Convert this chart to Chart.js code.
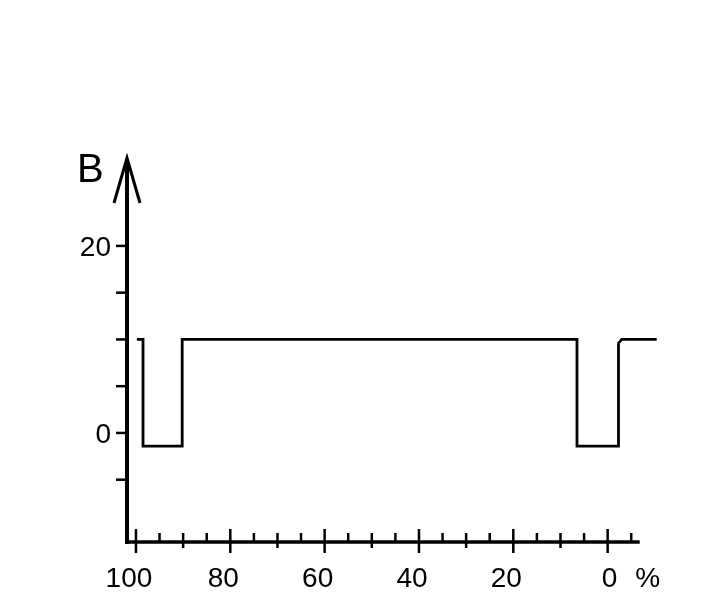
<!DOCTYPE html>
<html>
<head>
<meta charset="utf-8">
<script src="https://cdn.jsdelivr.net/npm/chart.js@4.4.1/dist/chart.umd.min.js"></script>
<style>
  html, body { margin: 0; padding: 0; background: #fff; }
  #wrap { width: 702px; height: 600px; }
</style>
</head>
<body>
<div id="wrap"><canvas id="chart" width="702" height="600"></canvas></div>
<script>
// trace corners (x in %, y in B units)
const traceX = [99.8, 98.5, 98.5, 90.2, 90.2, 6.5, 6.5, -2.2, -2.2, -2.4, -3.0, -10.4];
const traceY = [10, 10, -1.4, -1.4, 10, 10, -1.4, -1.4, 6.2, 9.6, 10, 10];

const xLabels = [100, 80, 60, 40, 20, 0];
const xTicksLong = [100, 80, 60, 40, 20, 0];
const xTicksMid = [90, 70, 50, 30, 10];
const xTicksSmall = [95, 85, 75, 65, 55, 45, 35, 25, 15, 5, -5];
const yLabels = [20, 0];
const yTicks = [20, 15, 10, 5, 0, -5];

const xUnit = '%';
const yName = 'B';

const FONT = '"Liberation Sans", Arial, Helvetica, sans-serif';

const axesPlugin = {
    id: 'axes',
    afterDraw(chart) {
        const ctx = chart.ctx;
        const xs = chart.scales.x;
        const ys = chart.scales.y;
        const ax = xs.getPixelForValue(101.9);
        const ay = ys.getPixelForValue(-11.66);
        const top = ys.getPixelForValue(29.4);
        const xEnd = xs.getPixelForValue(-6.8);

        ctx.save();
        ctx.strokeStyle = '#000';
        ctx.lineCap = 'butt';

        // y axis with arrow
        ctx.lineWidth = 4;
        ctx.beginPath();
        ctx.moveTo(ax, ay + 2);
        ctx.lineTo(ax, top + 2);
        ctx.stroke();
        ctx.lineWidth = 3;
        ctx.beginPath();
        ctx.moveTo(ax - 13, top + 45);
        ctx.lineTo(ax, top);
        ctx.lineTo(ax + 13, top + 45);
        ctx.stroke();

        // x axis
        ctx.lineWidth = 3.5;
        ctx.beginPath();
        ctx.moveTo(ax - 2, ay);
        ctx.lineTo(xEnd, ay);
        ctx.stroke();

        // x ticks
        ctx.lineWidth = 2.5;
        const tick = (v, up, down) => {
            const px = xs.getPixelForValue(v);
            ctx.beginPath();
            ctx.moveTo(px, ay - up);
            ctx.lineTo(px, ay + down);
            ctx.stroke();
        };
        xTicksLong.forEach(v => tick(v, 13, 11));
        xTicksMid.forEach(v => tick(v, 9, 6));
        xTicksSmall.forEach(v => tick(v, 9, 0));

        // y ticks
        yTicks.forEach(v => {
            const py = ys.getPixelForValue(v);
            ctx.beginPath();
            ctx.moveTo(ax - 11, py);
            ctx.lineTo(ax, py);
            ctx.stroke();
        });

        // labels
        ctx.fillStyle = '#000';
        ctx.font = '28px ' + FONT;
        ctx.textBaseline = 'middle';
        ctx.textAlign = 'center';
        xLabels.forEach(v => {
            const px = xs.getPixelForValue(v) + (v === 0 ? 2 : -7);
            ctx.fillText(String(v), px, ay + 37);
        });
        ctx.fillText(xUnit, xs.getPixelForValue(-8.5), ay + 37);

        ctx.textAlign = 'right';
        yLabels.forEach(v => {
            ctx.fillText(String(v), ax - 16, ys.getPixelForValue(v) + 2);
        });

        ctx.font = '40px ' + FONT;
        ctx.textAlign = 'left';
        ctx.textBaseline = 'alphabetic';
        ctx.fillText(yName, ax - 50, top + 24);
        ctx.restore();
    }
};

new Chart(document.getElementById('chart'), {
    type: 'line',
    data: {
        datasets: [{
            data: traceX.map((x, i) => ({ x: x, y: traceY[i] })),
            borderColor: '#000',
            borderWidth: 2.8,
            pointRadius: 0,
            tension: 0,
            fill: false
        }]
    },
    options: {
        responsive: false,
        animation: false,
        layout: { padding: { left: 127, right: 42, top: 158, bottom: 58 } },
        plugins: { legend: { display: false }, tooltip: { enabled: false } },
        scales: {
            x: { type: 'linear', reverse: true, min: -11.1, max: 101.9, display: false },
            y: { type: 'linear', min: -11.66, max: 29.4, display: false }
        }
    },
    plugins: [axesPlugin]
});
</script>
</body>
</html>
